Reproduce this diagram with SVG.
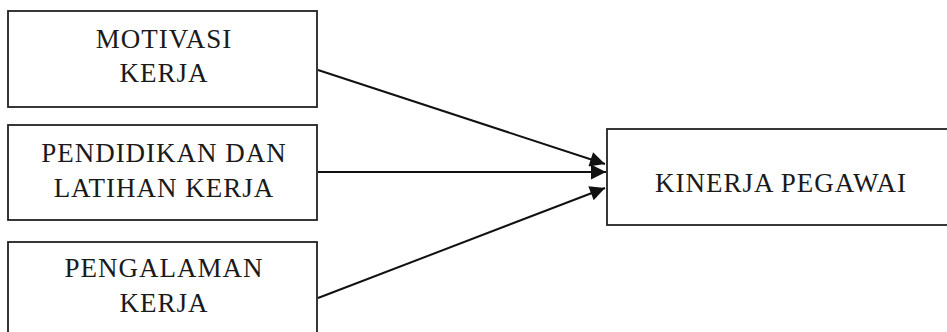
<svg xmlns="http://www.w3.org/2000/svg" width="947" height="332" viewBox="0 0 947 332">
<style>
.box{fill:#fff;stroke:#222;stroke-width:1.8}
.t{font-family:"Liberation Serif","Times New Roman",serif;font-size:27px;fill:#1a1a1a;text-anchor:middle;letter-spacing:1px}
.c{stroke:#111;stroke-width:2;fill:none}
</style>
<defs>
<marker id="ah" viewBox="0 0 10 10" refX="10" refY="5" markerWidth="18" markerHeight="15" markerUnits="userSpaceOnUse" orient="auto">
<path d="M0,0 L10,5 L0,10 z" fill="#111"/>
</marker>
</defs>
<rect width="947" height="332" fill="#fff"/>
<g id="motivasi">
<rect class="box" x="8" y="11" width="309" height="96"/>
<text class="t" x="164" y="48">MOTIVASI</text>
<text class="t" x="164" y="82">KERJA</text>
</g>
<g id="pendidikan">
<rect class="box" x="8" y="125" width="309" height="95"/>
<text class="t" x="164" y="162">PENDIDIKAN DAN</text>
<text class="t" x="164" y="197">LATIHAN KERJA</text>
</g>
<g id="pengalaman">
<rect class="box" x="8" y="242" width="309" height="100"/>
<text class="t" x="164" y="277">PENGALAMAN</text>
<text class="t" x="164" y="312">KERJA</text>
</g>
<g id="kinerja">
<rect class="box" x="607" y="129" width="350" height="96"/>
<text class="t" x="781" y="192">KINERJA PEGAWAI</text>
</g>
<g id="connectors">
<line class="c" x1="318" y1="70" x2="605" y2="164" marker-end="url(#ah)"/>
<line class="c" x1="318" y1="172" x2="606" y2="172" marker-end="url(#ah)"/>
<line class="c" x1="318" y1="298" x2="605" y2="188" marker-end="url(#ah)"/>
</g>
</svg>
